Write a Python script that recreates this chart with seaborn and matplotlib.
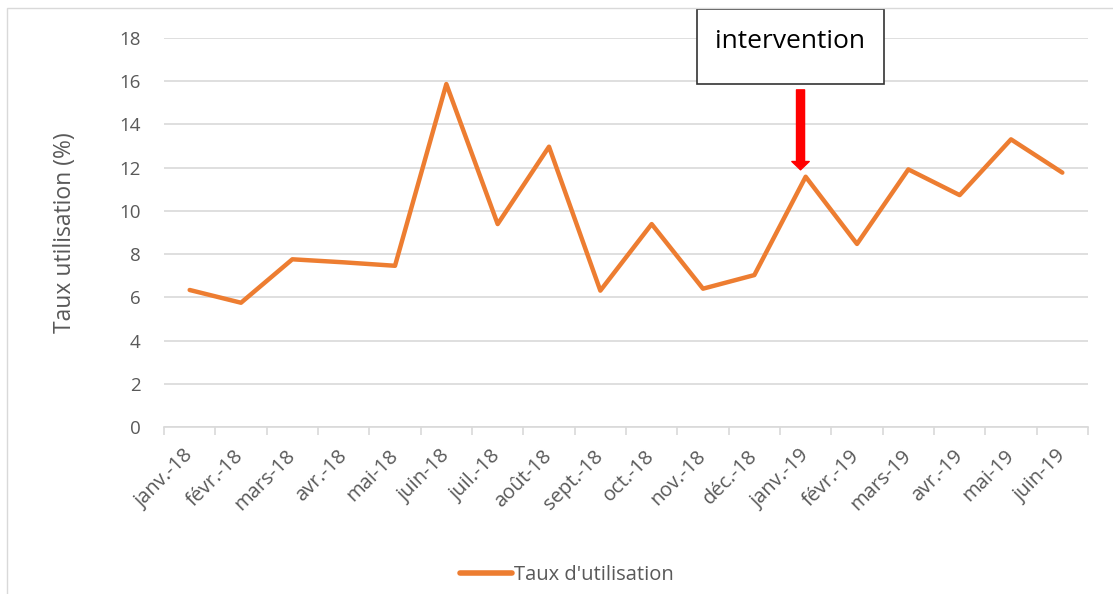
import matplotlib
matplotlib.use("Agg")
import matplotlib.pyplot as plt
import seaborn as sns
import numpy as np
import pandas as pd
from matplotlib.patches import Rectangle

months = ["janv.-18", "févr.-18", "mars-18", "avr.-18", "mai-18", "juin-18",
          "juil.-18", "août-18", "sept.-18", "oct.-18", "nov.-18", "déc.-18",
          "janv.-19", "févr.-19", "mars-19", "avr.-19", "mai-19", "juin-19"]
taux = [6.34, 5.75, 7.76, 7.62, 7.46, 15.87, 9.39, 12.97, 6.31, 9.39, 6.40, 7.03,
        11.58, 8.47, 11.92, 10.73, 13.31, 11.77]
y_ticks = [0, 2, 4, 6, 8, 10, 12, 14, 16, 18]
series_name = "Taux d'utilisation"
annot_text = "intervention"
annot_index = 12

sns.set_theme(style="white")
plt.rcParams['font.family'] = ['Open Sans', 'DejaVu Sans']

df = pd.DataFrame({"pos": np.arange(len(months)), "val": taux, "serie": series_name})

fig = plt.figure(figsize=(11.13, 5.94), dpi=100)
ax = fig.add_axes([164/1113, 1-427/594, (1088-164)/1113, (427-38)/594])

sns.lineplot(data=df, x="pos", y="val", hue="serie", palette=["#ED7D31"],
             linewidth=3.2, ax=ax, legend=False)

ax.set_xlim(-0.5, len(months)-0.5)
ax.set_ylim(0, 18)
ax.set_yticks(y_ticks)
ax.set_yticklabels([str(t) for t in y_ticks], fontsize=13.5, color="#595959")
ax.set_xticks(np.arange(len(months)))
ax.set_xticklabels(months, rotation=45, ha="right", va="center", rotation_mode="anchor",
                   fontsize=14.5, color="#595959")
ax.tick_params(axis="x", which="major", length=0, pad=19)
ax.tick_params(axis="y", length=0, pad=17)
ax.set_xticks(np.arange(-0.5, len(months)), minor=True)
ax.tick_params(axis="x", which="minor", length=6, color="#d9d9d9", width=1.2, bottom=True)
ax.grid(axis="y", color="#d9d9d9", linewidth=1.2)
ax.set_axisbelow(True)
for s in ["top", "right", "left"]:
    ax.spines[s].set_visible(False)
ax.spines["bottom"].set_color("#d9d9d9")
ax.spines["bottom"].set_linewidth(1.2)
ax.set_xlabel("")
ax.set_ylabel("Taux utilisation (%)", fontsize=16.5, color="#595959", labelpad=30)

# legend (centred on the chart area)
line = ax.get_lines()[0]
leg = fig.legend([line], [series_name], loc="center", bbox_to_anchor=(567/1113, 1-575/594),
                 frameon=False, fontsize=14.5, handlelength=2.6, handletextpad=0.1)
for t in leg.get_texts():
    t.set_color("#595959")
for h in leg.get_lines():
    h.set_linewidth(4)

# annotation box and arrow
ax.annotate("", xy=(annot_index - 0.1, 11.9),
            xytext=(annot_index - 0.1, 15.6),
            arrowprops=dict(width=5.8, headwidth=12.5, headlength=6,
                            color="#ff0000", shrink=0))
fig.patches.append(Rectangle((697/1113, 1-84/594), (884-697)/1113, (84-9)/594,
                             transform=fig.transFigure, facecolor="white",
                             edgecolor="#333333", linewidth=1.2))
fig.text(790/1113, 1-41/594, annot_text, ha="center", va="center", fontsize=19,
         color="black")

# outer chart border
fig.patches.append(Rectangle((7/1113, -0.01), 1.2, 1-8/594+0.01, transform=fig.transFigure,
                             facecolor="none", edgecolor="#d9d9d9", linewidth=1))

fig.savefig("out.png", dpi=100)
